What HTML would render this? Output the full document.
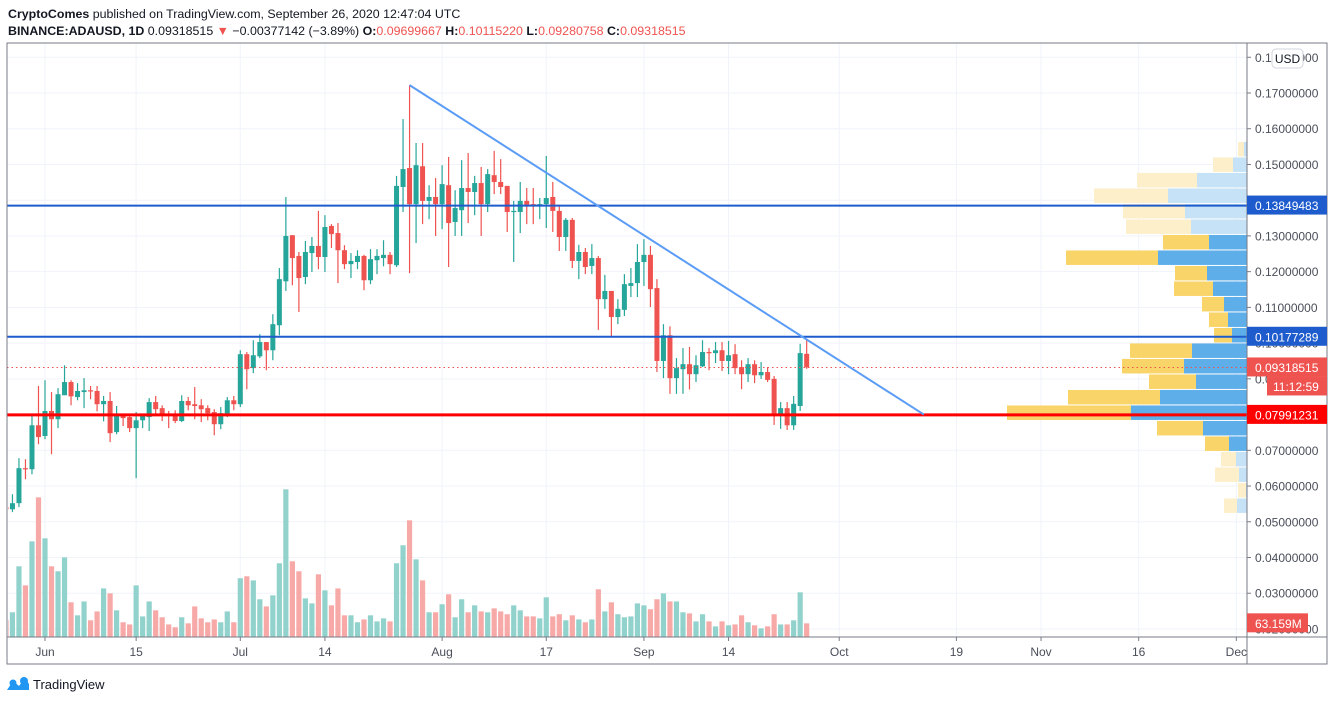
<!DOCTYPE html>
<html><head><meta charset="utf-8">
<style>
html,body{margin:0;padding:0;background:#fff;width:1334px;height:702px;overflow:hidden}
svg{display:block}
text{font-family:"Liberation Sans",sans-serif}
</style></head>
<body>
<svg id="chart" width="1334" height="702" viewBox="0 0 1334 702">
  <defs><clipPath id="pane"><rect x="8" y="43" width="1239" height="594"/></clipPath></defs>
  <rect x="0" y="0" width="1334" height="702" fill="#fff"/>
  <text x="8" y="18" font-size="12.4" fill="#131722"><tspan font-weight="bold">CryptoComes</tspan> published on TradingView.com, September 26, 2020 12:47:04 UTC</text>
  <text x="8" y="35" font-size="12.4" fill="#131722"><tspan font-weight="bold">BINANCE:ADAUSD, 1D</tspan> 0.09318515 <tspan fill="#ef5350">▼</tspan> −0.00377142 (−3.89%) <tspan font-weight="bold">O:</tspan><tspan fill="#ef5350">0.09699667</tspan> <tspan font-weight="bold">H:</tspan><tspan fill="#ef5350">0.10115220</tspan> <tspan font-weight="bold">L:</tspan><tspan fill="#ef5350">0.09280758</tspan> <tspan font-weight="bold">C:</tspan><tspan fill="#ef5350">0.09318515</tspan></text>
  <g id="grid"></g>
  <g id="profile"></g>
  <g id="volume" clip-path="url(#pane)"></g>
  <g id="candles" clip-path="url(#pane)"></g>
  <g id="lines"></g>
  <rect x="7" y="43" width="1320" height="621" fill="none" stroke="#787b86" stroke-width="1"/>
  <line x1="1247" y1="43" x2="1247" y2="664" stroke="#787b86"/>
  <line x1="7" y1="637" x2="1327" y2="637" stroke="#787b86"/>
  <g id="axes"></g>
  <g>
    <path d="M7 690 L13 681 L19 686 L25 678 L29 684 L29 690 Z" fill="#2196f3"/>
    <circle cx="13" cy="683" r="3.5" fill="#2196f3"/><circle cx="24" cy="681" r="4" fill="#2196f3"/>
    <text x="33" y="689" font-size="13" fill="#131722">TradingView</text>
  </g>
</svg>
<script>
const startDate = '2020-05-26';
const open = [.0541,.0535,.0552,.0650,.0647,.0770,.0740,.0810,.0787,.0854,.0891,.0849,.0863,.0868,.0866,.0829,.0838,.0751,.0796,.0793,.0762,.0784,.0793,.0835,.0818,.0801,.0796,.0782,.0838,.0829,.0826,.0818,.0807,.0773,.0801,.0840,.0829,.0969,.0930,.0963,.1003,.0980,.1050,.1173,.1302,.1244,.1185,.1252,.1272,.1241,.1328,.1308,.1260,.1221,.1227,.1244,.1176,.1232,.1238,.1247,.1218,.1437,.1490,.1389,.1495,.1398,.1409,.1389,.1442,.1339,.1372,.1434,.1423,.1448,.1389,.1470,.1451,.1440,.1367,.1367,.1398,.1389,.1387,.1389,.1409,.1370,.1297,.1345,.1230,.1255,.1216,.1238,.1123,.1146,.1073,.1093,.1160,.1168,.1227,.1247,.1154,.0950,.1022,.0902,.0927,.0941,.0913,.0935,.0975,.0972,.0980,.0950,.0969,.0933,.0913,.0941,.0910,.0919,.0900,.0801,.0818,.0770,.0824,.0970];
const high = [.0546,.0577,.0678,.0675,.0798,.0880,.0896,.0863,.0874,.0938,.0896,.0888,.0902,.0880,.0880,.0852,.0863,.0824,.0798,.0796,.0807,.0801,.0846,.0852,.0826,.0810,.0812,.0854,.0849,.0877,.0843,.0826,.0815,.0821,.0849,.0852,.0980,.0975,.1008,.1025,.1003,.1081,.1210,.1409,.1302,.1255,.1286,.1297,.1370,.1358,.1333,.1336,.1274,.1252,.1260,.1247,.1263,.1263,.1288,.1255,.1468,.1627,.1722,.1560,.1560,.1442,.1462,.1498,.1521,.1428,.1512,.1532,.1468,.1493,.1487,.1538,.1515,.1440,.1398,.1451,.1434,.1434,.1406,.1524,.1451,.1387,.1350,.1350,.1275,.1266,.1277,.1244,.1191,.1146,.1123,.1193,.1210,.1277,.1291,.1272,.1179,.1053,.1047,.0958,.0986,.0989,.0966,.1008,.0986,.1003,.1003,.1006,.0997,.0952,.0958,.0952,.0947,.0933,.0908,.0835,.0835,.0852,.0998,.1012];
const low = [.0529,.0527,.0541,.0619,.0633,.0717,.0731,.0689,.0762,.0871,.0826,.0840,.0818,.0843,.0809,.0781,.0723,.0745,.0768,.0751,.0622,.0762,.0754,.0796,.0782,.0762,.0776,.0779,.0812,.0787,.0779,.0784,.0742,.0759,.0793,.0812,.0821,.0871,.0916,.0958,.0924,.0952,.1022,.1146,.1162,.1087,.1165,.1199,.1207,.1199,.1266,.1168,.1207,.1182,.1207,.1148,.1165,.1193,.1215,.1193,.1213,.1367,.1196,.1280,.1333,.1347,.1300,.1319,.1213,.1300,.1300,.1336,.1358,.1300,.1367,.1417,.1417,.1311,.1227,.1308,.1333,.1333,.1347,.1322,.1311,.1258,.1258,.1210,.1179,.1193,.1193,.1037,.1096,.1020,.1053,.1076,.1129,.1129,.1160,.1101,.0919,.0902,.0858,.0858,.0858,.0870,.0891,.0933,.0924,.0944,.0922,.0913,.0913,.0871,.0891,.0888,.0900,.0891,.0771,.0760,.0757,.0757,.0810,.0928];
const close = [.0535,.0552,.0650,.0647,.0770,.0737,.0810,.0787,.0857,.0891,.0851,.0866,.0868,.0866,.0829,.0838,.0748,.0796,.0790,.0762,.0784,.0796,.0835,.0815,.0801,.0796,.0782,.0838,.0826,.0824,.0815,.0804,.0773,.0804,.0840,.0829,.0969,.0927,.0966,.1003,.0980,.1053,.1179,.1300,.1238,.1182,.1255,.1272,.1241,.1325,.1305,.1260,.1221,.1230,.1244,.1176,.1235,.1244,.1247,.1221,.1440,.1487,.1389,.1498,.1398,.1409,.1389,.1445,.1336,.1378,.1434,.1423,.1448,.1389,.1473,.1451,.1437,.1367,.1370,.1398,.1387,.1387,.1389,.1406,.1370,.1297,.1345,.1230,.1255,.1213,.1238,.1123,.1146,.1073,.1096,.1165,.1168,.1227,.1247,.1151,.0950,.1022,.0902,.0930,.0941,.0913,.0938,.0975,.0972,.0980,.0950,.0966,.0930,.0913,.0941,.0910,.0919,.0897,.0801,.0818,.0770,.0830,.0972,.0932];
const volumeM = [78,114,326,238,441,644,455,326,303,367,160,100,164,77,118,224,201,123,68,58,238,95,164,123,91,58,45,91,63,141,86,68,81,68,118,68,271,280,261,174,141,192,340,681,349,303,178,155,289,215,146,224,100,100,68,81,100,72,86,72,340,423,538,358,261,114,114,151,197,91,174,114,146,118,114,132,118,105,146,123,95,95,86,183,95,105,77,100,81,68,81,220,118,160,105,91,95,155,146,128,174,201,164,164,114,109,72,105,72,49,72,54,58,100,68,54,40,49,105,58,58,77,206,63];
const priceTicks = [0.18,0.17,0.16,0.15,0.14,0.13,0.12,0.11,0.10,0.09,0.08,0.07,0.06,0.05,0.04,0.03,0.02];
const timeTickDates = ['2020-06-01','2020-06-15','2020-07-01','2020-07-14','2020-08-01','2020-08-17','2020-09-01','2020-09-14','2020-10-01','2020-10-19','2020-11-01','2020-11-16','2020-12-01'];
const timeTickLabels = ['Jun','15','Jul','14','Aug','17','Sep','14','Oct','19','Nov','16','Dec'];
const levelPrices = [0.13849483, 0.10177289, 0.07991231];
const levelColors = ['#1e5bcc','#1e5bcc','#ff0000'];
const lastPrice = 0.09318515;
const trendStart = ['2020-07-27', 0.1722];
const trendEnd = ['2020-10-14', 0.0800];
const profileTopPrice = 0.1563;
const profileBinSize = 0.004338;
const profileBuy = [3,14,50,79,62,56,38,89,40,34,23,19,15,55,63,51,87,116,44,18,11,8,1,10];
const profileSell = [6,20,60,74,62,65,46,92,32,39,22,19,18,62,62,47,92,124,46,24,15,24,8,13];
const profileValueArea = [0,0,0,0,0,0,1,1,1,1,1,1,1,1,1,1,1,1,1,1,0,0,0,0];

const NS = 'http://www.w3.org/2000/svg';
const PL = 7, PR = 1247, PT = 43, PB = 637;
function dayDiff(s){ const a = s.split('-').map(Number); return (Date.UTC(a[0],a[1]-1,a[2]) - Date.UTC(2020,5,1))/86400000; }
function xOfDay(d){ return 45 + d*6.51; }
function xOfDate(s){ return xOfDay(dayDiff(s)); }
function yOf(p){ return 93 + (0.17 - p)*3573; }
function volH(v){ return v*0.2169; }
function mk(tag, attrs, parent){ const e = document.createElementNS(NS, tag); for (const k in attrs) e.setAttribute(k, attrs[k]); parent.appendChild(e); return e; }

const grid = document.getElementById('grid');
const axes = document.getElementById('axes');
priceTicks.forEach(p => {
  const y = yOf(p);
  if (y > PT && y < PB) {
    const gl = mk('line', {x1:PL, y1:y, x2:PR, y2:y, stroke:'#f0f3fa', 'stroke-width':1}, grid);
    
    
  }
  if (y > PT && y < PB + 3) {
    const tk = mk('line', {x1:PR, y1:y, x2:PR+4, y2:y, stroke:'#787b86'}, axes);
    
    
    const t = mk('text', {x:1255, y:y+4.5, 'font-size':12, fill:'#4a4e59'}, axes);
    t.textContent = p.toFixed(8);
    
    
  }
});
timeTickDates.forEach((d, i) => {
  const x = xOfDate(d);
  const gl = mk('line', {x1:x, y1:PT, x2:x, y2:PB, stroke:'#f0f3fa'}, grid);
  
  
  const tk = mk('line', {x1:x, y1:PB, x2:x, y2:PB+4, stroke:'#787b86'}, axes);
  
  
  const t = mk('text', {x:x, y:656, 'font-size':12, fill:'#4a4e59', 'text-anchor':'middle'}, axes);
  t.textContent = timeTickLabels[i];
  
  
});

const prof = document.getElementById('profile');
profileBuy.forEach((b, i) => {
  const yTop = yOf(profileTopPrice - i*profileBinSize);
  const h = profileBinSize*3573 - 1;
  const va = profileValueArea[i];
  const br = mk('rect', {x:PR-b, y:yTop, width:b, height:h, fill: va ? '#5eaeea' : '#c6e2f6'}, prof);
  
  
  const s = profileSell[i];
  const sr = mk('rect', {x:PR-b-s, y:yTop, width:s, height:h, fill: va ? '#f9d468' : '#fdefca'}, prof);
  
  
});

const s0 = dayDiff(startDate);
const vg = document.getElementById('volume');
const cg = document.getElementById('candles');
open.forEach((o, i) => {
  const x = xOfDay(s0 + i);
  const up = close[i] >= o;
  const vh = volH(volumeM[i]);
  const vb = mk('rect', {x:x-2.6, y:PB-vh, width:5.2, height:vh, fill: up ? '#92d2cc' : '#f7a9a7'}, vg);
  
  
  const col = up ? '#26a69a' : '#ef5350';
  const w = mk('line', {x1:x, y1:yOf(high[i]), x2:x, y2:yOf(low[i]), stroke:col, 'stroke-width':1.2}, cg);
  
  
  const yt = yOf(Math.max(o, close[i])), yb = yOf(Math.min(o, close[i]));
  const b = mk('rect', {x:x-2.5, y:yt, width:5, height:Math.max(1.2, yb-yt), fill:col}, cg);
  
  
});

const lg = document.getElementById('lines');
const cp = mk('line', {x1:PL, y1:yOf(lastPrice), x2:PR, y2:yOf(lastPrice), stroke:'#ef5350', 'stroke-width':1, 'stroke-dasharray':'1.5 3'}, lg);


levelPrices.forEach((p, i) => {
  const y = yOf(p);
  const l = mk('line', {x1:PL, y1:y, x2:PR, y2:y, stroke:levelColors[i], 'stroke-width': i===2 ? 3 : 2}, lg);
  
  
});
const tl = mk('line', {x1:xOfDate(trendStart[0]), y1:yOf(trendStart[1]), x2:xOfDate(trendEnd[0]), y2:yOf(trendEnd[1]), stroke:'#5b9cf6', 'stroke-width':2}, lg);



function tag(y, txt, bg, x0, w, name){
  const r = mk('rect', {x:x0, y:y-10, width:w, height:19, fill:bg}, axes);
  
  
  const t = mk('text', {x:x0+ (x0===PR?8:6), y:y+4.5, 'font-size':12, fill:'#fff'}, axes);
  t.textContent = txt;
  
  
}
tag(yOf(levelPrices[0]), levelPrices[0].toFixed(8), levelColors[0], PR, 80, 'level-label-high');
tag(yOf(levelPrices[1]), levelPrices[1].toFixed(8), levelColors[1], PR, 80, 'level-label-mid');
tag(yOf(lastPrice), lastPrice.toFixed(8), '#ef5350', PR, 80, 'last-price-label');
tag(yOf(lastPrice)+19, '11:12:59', '#ef5350', 1267, 60, 'countdown-label');
tag(yOf(levelPrices[2]), levelPrices[2].toFixed(8), '#ff0000', PR, 80, 'level-label-low');
tag(PB - volH(volumeM[volumeM.length-1]), '63.159M', '#ef5350', 1247, 61, 'volume-label');
const ub = mk('rect', {x:1272, y:49, width:31, height:19, rx:4, fill:'#fff', stroke:'#d1d4dc'}, axes);


const ut = mk('text', {x:1287.5, y:63, 'font-size':12, fill:'#131722', 'text-anchor':'middle'}, axes);
ut.textContent = 'USD';


</script>
</body></html>
